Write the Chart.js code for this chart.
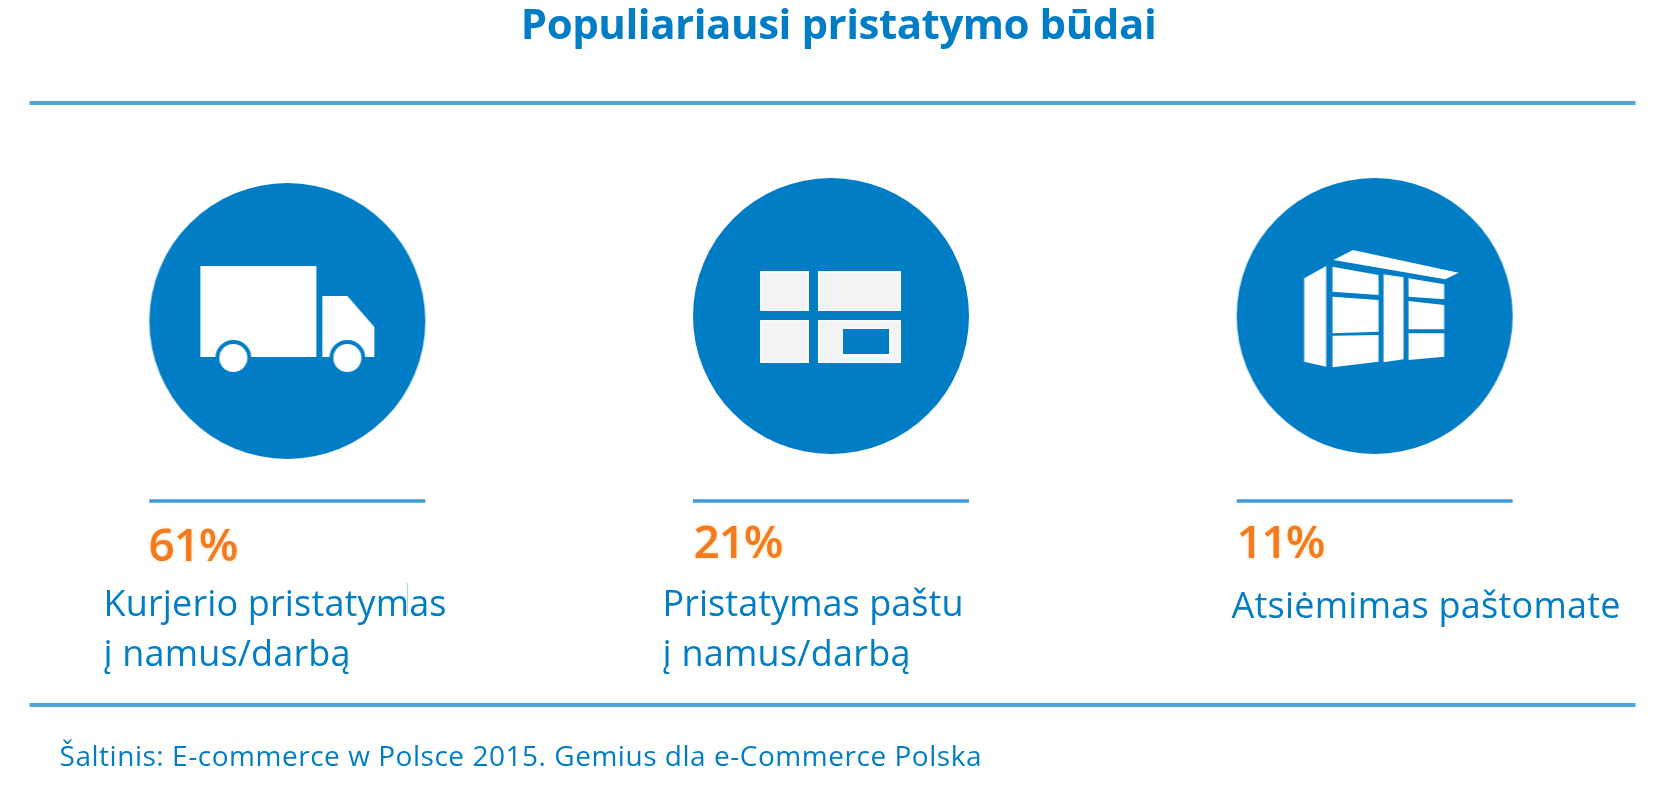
<!DOCTYPE html>
<html lang="lt">
<head>
<meta charset="utf-8">
<title>Populiariausi pristatymo būdai</title>
<script src="https://cdn.jsdelivr.net/npm/chart.js@4/dist/chart.umd.js"></script>
<style>
html,body{margin:0;padding:0;background:#fff;overflow:hidden;width:1673px;height:795px}
canvas{display:block;margin-left:1.5px}
</style>
</head>
<body>
<canvas id="c" width="1673" height="795"></canvas>
<script>
// ---- data ----
const titleText = "Populiariausi pristatymo būdai";
const categories = ["Kurjerio pristatymas į namus/darbą", "Pristatymas paštu į namus/darbą", "Atsiėmimas paštomate"];
const shares = [61, 21, 11];
const labelLines = [["Kurjerio pristatymas", "į namus/darbą"], ["Pristatymas paštu", "į namus/darbą"], ["Atsiėmimas paštomate"]];
const sourceText = "Šaltinis: E-commerce w Polsce 2015. Gemius dla e-Commerce Polska";
const iconRow = [0, 0, 0];

// ---- style ----
const BLUE = "#007dc5", RULE = "#4ea5dc", ORANGE = "#f47a20";
const FONT = '"Open Sans", sans-serif';
const OFFSET = 1.5; // canvas is shifted right by this many px

function iconCanvas(draw, dy) {
  const c = document.createElement("canvas");
  c.width = 320; c.height = 320;
  const x = c.getContext("2d");
  x.filter = "blur(0.6px)";
  x.translate(160, 160 + dy);
  x.fillStyle = BLUE;
  x.beginPath(); x.arc(0, 0, 138, 0, Math.PI * 2); x.fill();
  draw(x);
  return c;
}
function poly(x, pts, scale, cx, cy) {
  x.beginPath();
  pts.forEach((p, i) => {
    const a = (p[0] - cx) / scale, b = (p[1] - cy) / scale;
    i ? x.lineTo(a, b) : x.moveTo(a, b);
  });
  x.closePath(); x.fill();
}
function truck(x) {
  x.fillStyle = "#fff";
  x.fillRect(-87, -55, 116, 91);
  poly(x, [[35, -25], [60, -25], [87, 6], [87, 36], [35, 36]], 1, 0, 0);
  x.fillStyle = BLUE;
  [-54, 60].forEach(w => { x.beginPath(); x.arc(w, 37, 18, 0, Math.PI * 2); x.fill(); });
  x.fillStyle = "#fff";
  [-54, 60].forEach(w => { x.beginPath(); x.arc(w, 37, 14, 0, Math.PI * 2); x.fill(); });
}
function tiles(x) {
  const rects = [[-71, -45, 49, 40], [-13, -45, 83, 40], [-71, 4, 49, 43], [-13, 4, 83, 43]];
  x.fillStyle = "#fbfaf8";
  rects.forEach(r => x.fillRect(r[0], r[1], r[2], r[3]));
  x.fillStyle = "#f2f3f5";
  rects.forEach(r => x.fillRect(r[0] + 2, r[1] + 2, r[2] - 4, r[3] - 4));
  x.fillStyle = "#fbfaf8";
  x.fillRect(11, 11, 51, 31);
  x.fillStyle = BLUE;
  x.fillRect(12, 13, 46, 25);
}
function locker(x) {
  x.fillStyle = "#fff";
  const polys = [
    [[252,325],[318,288],[318,590],[252,575]],
    [[340,270],[398,240],[715,308],[675,328]],
    [[337,290],[475,315],[475,375],[337,365]],
    [[337,380],[475,390],[475,485],[337,490]],
    [[337,497],[475,495],[475,575],[337,592]],
    [[490,313],[550,322],[550,568],[490,577]],
    [[565,325],[672,343],[672,388],[565,380]],
    [[565,393],[672,405],[672,478],[565,478]],
    [[565,490],[672,490],[672,560],[565,570]]
  ];
  polys.forEach(p => poly(x, p, 3, 463.5, 438));
}
const icons = [iconCanvas(truck, 5), iconCanvas(tiles, 0), iconCanvas(locker, 0)];

// fits text to a target width using letter spacing
function fit(ctx, text, width) {
  ctx.letterSpacing = "0px";
  const w = ctx.measureText(text).width;
  ctx.letterSpacing = ((width - w) / (text.length - 1)).toFixed(3) + "px";
}
function put(ctx, text, x, y, width) {
  fit(ctx, text, width);
  ctx.fillText(text, x - OFFSET, y);
  ctx.letterSpacing = "0px";
}
function rule(ctx, x0, x1, y, lw, color) {
  ctx.strokeStyle = color; ctx.lineWidth = lw; ctx.lineCap = "butt";
  ctx.beginPath(); ctx.moveTo(x0 - OFFSET, y); ctx.lineTo(x1 - OFFSET, y); ctx.stroke();
}

const overlay = {
  id: "overlay",
  beforeDraw(chart) {
    const ctx = chart.ctx;
    ctx.font = "700 42px " + FONT;
    fit(ctx, titleText, 636);
  },
  afterDraw(chart) {
    const ctx = chart.ctx, sx = chart.scales.x;
    ctx.save();
    ctx.letterSpacing = "0px";
    ctx.filter = "blur(0.7px)";
    rule(ctx, 29, 1635, 103, 4, RULE);
    rule(ctx, 29, 1635, 705, 4, RULE);
    ctx.filter = "none";
    const pctX = [148, 693, 1236], pctY = [561, 558, 558], pctW = [90, 90, 89];
    const lblX = [103, 662, 1231], lblY = [616, 616, 618], lblW = [[343, 247], [301, 248], [389]];
    categories.forEach((cat, i) => {
      const c = sx.getPixelForValue(i) + OFFSET;
      ctx.filter = "blur(0.5px)";
      rule(ctx, c - 138, c + 138, 501, 3.5, "#3f9bd6");
      ctx.filter = "none";
      ctx.textAlign = "left"; ctx.textBaseline = "alphabetic";
      ctx.font = "600 46px " + FONT;
      ctx.fillStyle = ORANGE;
      ctx.save();
      ctx.shadowColor = "rgba(255,190,90,.6)"; ctx.shadowBlur = 3;
      ctx.filter = "blur(0.6px)";
      put(ctx, shares[i] + "%", pctX[i], pctY[i], pctW[i]);
      ctx.restore();
      ctx.font = "400 36px " + FONT;
      ctx.fillStyle = BLUE;
      labelLines[i].forEach((ln, k) => put(ctx, ln, lblX[i], lblY[i] + k * 50, lblW[i][k]));
    });
    ctx.font = "400 28px " + FONT;
    ctx.fillStyle = BLUE;
    put(ctx, sourceText, 59, 766, 922);
    ctx.strokeStyle = "#a5d8f3"; ctx.lineWidth = 1;
    ctx.beginPath(); ctx.moveTo(407 - OFFSET, 583); ctx.lineTo(407 - OFFSET, 614); ctx.stroke();
    ctx.restore();
  }
};

const hiddenAxis = (position, width) => ({
  type: "linear", position, min: -1, max: 1, display: true,
  grid: { display: false }, border: { display: false }, ticks: { display: false },
  afterFit: s => { s.width = width; }
});

new Chart(document.getElementById("c"), {
  type: "line",
  plugins: [overlay],
  data: {
    labels: categories,
    datasets: [{
      label: "Pristatymo būdas",
      data: iconRow,
      showLine: false,
      pointStyle: ctx => icons[ctx.dataIndex],
      pointRadius: 138,
      clip: false
    }]
  },
  options: {
    responsive: false,
    devicePixelRatio: 1,
    animation: false,
    events: [],
    layout: { autoPadding: false, padding: { left: 0, right: 0, top: 0, bottom: 279 } },
    plugins: {
      legend: { display: false },
      tooltip: { enabled: false },
      title: {
        display: true,
        text: titleText,
        color: BLUE,
        font: { family: FONT, size: 42, weight: "700", lineHeight: 1 },
        padding: { top: 6, bottom: 68 }
      }
    },
    scales: {
      x: { type: "category", offset: true, display: false },
      y: hiddenAxis("left", 13.5),
      y1: hiddenAxis("right", 28.5)
    }
  }
});
</script>
</body>
</html>
